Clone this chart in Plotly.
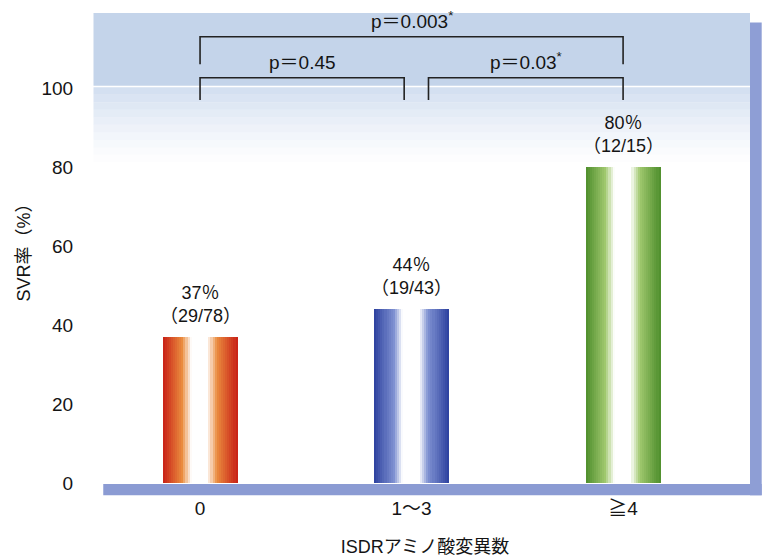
import plotly.graph_objects as go

# SVR rate by number of ISDR amino-acid substitutions
categories = ["0", "1～3", "≧4"]
svr_rate = [37, 44, 80]
svr_counts = ["29/78", "19/43", "12/15"]

# pairwise comparisons: (left index, right index, p label)
comparisons = [
    (0, 2, "p＝0.003<sup>*</sup>"),
    (0, 1, "p＝0.45"),
    (1, 2, "p＝0.03<sup>*</sup>"),
]

FONT = "Liberation Sans, Arial, Noto Sans CJK JP, sans-serif"
INK = "#141414"

# edge / mid-tone colours for each bar's cylindrical shading
edge_rgb = [(200, 32, 22), (44, 64, 158), (78, 142, 44)]
mid_rgb = [(234, 140, 62), (128, 146, 210), (160, 200, 110)]


def shade(t, edge, mid):
    """Colour across the bar width: dark edges, white highlight in the middle."""
    if t < 0.38:
        s = (0.38 - t) / 0.38
    elif t > 0.60:
        s = (t - 0.60) / 0.40
    else:
        s = 0.0
    white = (255, 255, 255)
    if s < 0.3:
        k = s / 0.3
        c = [white[j] + (mid[j] - white[j]) * k for j in range(3)]
    else:
        k = (s - 0.3) / 0.7
        c = [mid[j] + (edge[j] - mid[j]) * k for j in range(3)]
    return "rgb(%d,%d,%d)" % tuple(int(round(v)) for v in c)


fig = go.Figure()

bar_w = 0.355
n_slices = 36
for i in range(n_slices):
    t = (i + 0.5) / n_slices
    fig.add_trace(go.Bar(
        x=categories,
        y=svr_rate,
        width=bar_w / n_slices * 1.02,
        offset=-bar_w / 2 + i * bar_w / n_slices,
        marker=dict(color=[shade(t, e, m) for e, m in zip(edge_rgb, mid_rgb)],
                    line=dict(width=0)),
        showlegend=False,
        hoverinfo="skip",
    ))

# rate + count labels above each bar
for cat, rate, cnt in zip(categories, svr_rate, svr_counts):
    fig.add_annotation(
        x=cat, y=rate, yanchor="bottom", yshift=9, showarrow=False,
        text=f"{rate}％<br>（{cnt}）",
        font=dict(family=FONT, size=18, color=INK),
    )

# light blue band across the top of the panel
shapes = [dict(type="rect", xref="paper", yref="y", x0=-0.01, x1=1.0, y0=100.6, y1=119,
               fillcolor="#c4d4ea", line=dict(width=0), layer="below")]
steps = 10
for k in range(steps):
    y1 = 100.2 - k * 1.9
    y0 = y1 - 1.9
    alpha = 0.75 * (1 - k / steps) ** 1.3
    shapes.append(dict(type="rect", xref="paper", yref="y", x0=-0.01, x1=1.0, y0=y0, y1=y1,
                       fillcolor=f"rgba(198,214,236,{alpha:.3f})", line=dict(width=0),
                       layer="below"))

# frame: thick blue base line and right edge
shapes.append(dict(type="rect", xref="paper", yref="paper", x0=0.005, x1=1.018,
                   y0=-0.026, y1=-0.002, fillcolor="#8b9bd3", line=dict(width=0)))
shapes.append(dict(type="rect", xref="paper", yref="paper", x0=1.0, x1=1.018,
                   y0=-0.026, y1=0.98, fillcolor="#8e9ed5", line=dict(width=0)))

# comparison brackets
bracket_top = {(0, 2): 113.0, (0, 1): 102.6, (1, 2): 102.6}
bracket_leg = {(0, 2): 106.0, (0, 1): 97.0, (1, 2): 97.0}
bracket_x = {(0, 2): (0.0, 2.0), (0, 1): (0.0, 0.965), (1, 2): (1.08, 2.0)}
for a, b, label in comparisons:
    x0, x1 = bracket_x[(a, b)]
    top = bracket_top[(a, b)]
    leg = bracket_leg[(a, b)]
    shapes.append(dict(type="path", xref="x", yref="y",
                       path=f"M {x0},{leg} L {x0},{top} L {x1},{top} L {x1},{leg}",
                       line=dict(color="#222222", width=1.6)))
    fig.add_annotation(x=(x0 + x1) / 2, y=top, yanchor="bottom", yshift=3, showarrow=False,
                       text=label, font=dict(family=FONT, size=19, color=INK))

fig.update_layout(
    width=773, height=557,
    margin=dict(l=100, r=23, t=13, b=74),
    paper_bgcolor="white", plot_bgcolor="white",
    barmode="overlay", bargap=0,
    shapes=shapes,
    font=dict(family=FONT, size=18, color=INK),
    xaxis=dict(
        type="category", range=[-0.473, 2.60], automargin=False,
        showgrid=False, zeroline=False, showline=False,
        ticks="outside", ticklen=8, tickcolor="rgba(0,0,0,0)",
        tickfont=dict(family=FONT, size=19, color=INK),
        title=dict(text="ISDRアミノ酸変異数", standoff=22,
                   font=dict(family=FONT, size=18, color=INK)),
    ),
    yaxis=dict(
        range=[0, 119], tickvals=[0, 20, 40, 60, 80, 100], automargin=False,
        showgrid=False, zeroline=False, showline=False,
        ticks="outside", ticklen=22, tickcolor="rgba(0,0,0,0)",
        tickfont=dict(family=FONT, size=19, color=INK),
        title=dict(text="SVR率（%）", standoff=6,
                   font=dict(family=FONT, size=18, color=INK)),
    ),
)

fig.write_html("out.html")
